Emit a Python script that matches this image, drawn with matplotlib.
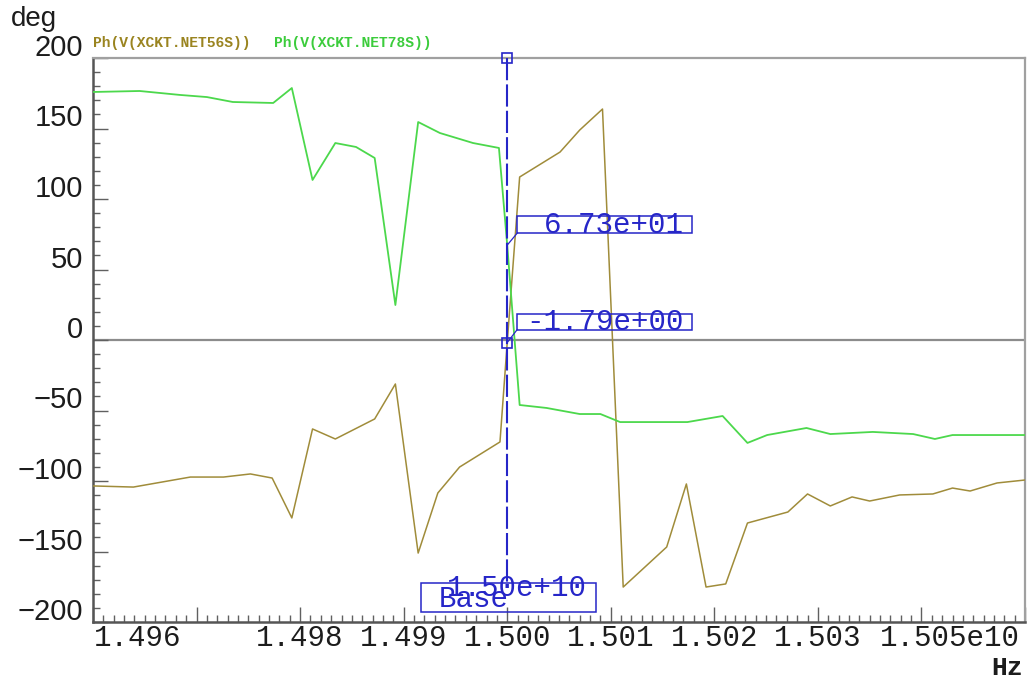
import matplotlib
matplotlib.use("Agg")
import matplotlib.pyplot as plt
import matplotlib.transforms as mtransforms
from matplotlib.patches import Rectangle
from matplotlib.lines import Line2D
from matplotlib.ticker import MultipleLocator
import numpy as np

plt.rcParams["lines.scale_dashes"] = False

# Frequency axis values are in units of 1e10 Hz
freq_78s = [1.49600, 1.49645, 1.49684, 1.49710, 1.49735, 1.49774, 1.49792,
            1.49812, 1.49834, 1.49854, 1.49872, 1.49892, 1.49914, 1.49935,
            1.49967, 1.49992, 1.50000, 1.50012, 1.50038, 1.50070, 1.50090,
            1.50109, 1.50174, 1.50208, 1.50232, 1.50251, 1.50289, 1.50312,
            1.50353, 1.50392, 1.50413, 1.50430, 1.50500]
phase_78s = [175.9, 176.6, 173.8, 172.3, 168.8, 168.1, 178.7,
             113.5, 139.7, 136.9, 129.1, 24.8, 154.6, 146.8,
             139.7, 136.2, 67.3, -46.1, -48.2, -52.5, -52.5,
             -58.2, -58.2, -53.9, -73.0, -67.4, -62.4, -66.7,
             -65.2, -66.7, -70.2, -67.4, -67.4]

freq_56s = [1.49600, 1.49639, 1.49694, 1.49726, 1.49752, 1.49773, 1.49792,
            1.49812, 1.49834, 1.49872, 1.49892, 1.49914, 1.49933, 1.49954,
            1.49993, 1.50000, 1.50012, 1.50051, 1.50070, 1.50092, 1.50112,
            1.50154, 1.50173, 1.50192, 1.50211, 1.50232, 1.50271, 1.50290,
            1.50312, 1.50333, 1.50350, 1.50379, 1.50411, 1.50430, 1.50447,
            1.50473, 1.50500]
phase_56s = [-103.5, -104.3, -97.2, -97.2, -95.0, -97.9, -126.2,
             -63.1, -70.2, -56.0, -31.2, -151.1, -108.5, -90.1,
             -72.3, -1.79, 115.6, 133.3, 148.9, 163.8, -175.2,
             -146.8, -102.1, -175.2, -173.0, -129.8, -122.0, -109.2,
             -117.7, -111.3, -114.2, -109.9, -109.2, -105.0, -107.1,
             -101.4, -99.3]

series_names = ["Ph(V(XCKT.NET56S))", "Ph(V(XCKT.NET78S))"]

cursor_freq = 1.500
base_name = "Base"

x_major = [1.496, 1.497, 1.498, 1.499, 1.500, 1.501, 1.502, 1.503, 1.504, 1.505]
x_tick_labels = ["1.496", "", "1.498", "1.499", "1.500", "1.501", "1.502",
                 "1.503", "", "1.505e10"]
y_major = [-200, -150, -100, -50, 0, 50, 100, 150, 200]
y_tick_labels = ["\u2212200", "\u2212150", "\u2212100", "\u221250", "0",
                 "50", "100", "150", "200"]

OLIVE = "#a08c3a"
GREEN = "#4cd84c"
BLUE = "#2626c8"
DARK = "#1c1c1c"
SANS = ["Liberation Sans", "DejaVu Sans"]
MONO = ["Liberation Mono", "DejaVu Sans Mono"]

W, H, DPI = 1030, 682, 100
fig = plt.figure(figsize=(W / DPI, H / DPI), dpi=DPI, facecolor="white")
ax = fig.add_axes([93 / W, 60 / H, 932 / W, 564 / H])
ax.set_xlim(x_major[0], x_major[-1])
ax.set_ylim(y_major[0], y_major[-1])

# frame
for side in ("left", "bottom"):
    ax.spines[side].set_color("#555555")
    ax.spines[side].set_linewidth(1.8)
for side in ("top", "right"):
    ax.spines[side].set_color("#a0a0a0")
    ax.spines[side].set_linewidth(1.6)

ax.set_xticks(x_major)
ax.xaxis.set_minor_locator(MultipleLocator(0.0001))
ax.set_yticks(y_major)
ax.yaxis.set_minor_locator(MultipleLocator(10))
ax.tick_params(which="both", direction="in", labelbottom=False,
               labelleft=False, color="#606060", width=1,
               top=False, right=False)
ax.tick_params(which="major", length=11)
ax.tick_params(which="minor", length=5)

ax.axhline(0, color="#8c8c8c", lw=1.6, zorder=1)

ax.plot(freq_56s, phase_56s, color=OLIVE, lw=1.1, zorder=3)
ax.plot(freq_78s, phase_78s, color=GREEN, lw=1.3, zorder=4)

# tick labels
px = 1.0 / DPI
ytr = ax.get_yaxis_transform() + mtransforms.ScaledTranslation(
    -10 * px, 10 * px, fig.dpi_scale_trans)
for v, s in zip(y_major, y_tick_labels):
    ax.text(0, v, s, transform=ytr, ha="right", va="center",
            fontsize=21, family=SANS, color=DARK, clip_on=False)

for i, (v, s) in enumerate(zip(x_major, x_tick_labels)):
    if not s:
        continue
    if i == 0:
        ha, dx = "left", 1
    elif i == len(x_major) - 1:
        ha, dx = "right", -5
    else:
        ha, dx = "center", 0
    xtr = ax.get_xaxis_transform() + mtransforms.ScaledTranslation(
        dx * px, -16 * px, fig.dpi_scale_trans)
    ax.text(v, 0, s, transform=xtr, ha=ha, va="center", fontsize=21,
            family=MONO, color=DARK, clip_on=False)

fig.text(34 / W, 1 - 19 / H, "deg", ha="center", va="center",
         fontsize=20, family=SANS, color=DARK)
fig.text(1023 / W, 1 - 668 / H, "Hz", ha="right", va="center",
         fontsize=19, family=MONO, fontweight="bold", color=DARK)

# series names above the plot
fig.text(93 / W, 1 - 43 / H, series_names[0], ha="left", va="center",
         fontsize=10.5, family=MONO, fontweight="bold", color="#9a8420")
fig.text(274 / W, 1 - 43 / H, series_names[1], ha="left", va="center",
         fontsize=10.5, family=MONO, fontweight="bold", color="#3ccc3c")

# cursor and readouts, laid out in pixel units around the cursor position
ident = mtransforms.IdentityTransform()
val_78s = float(np.interp(cursor_freq, freq_78s, phase_78s))
val_56s = float(np.interp(cursor_freq, freq_56s, phase_56s))

cx, ytop = ax.transData.transform((cursor_freq, y_major[-1]))
_, ybot = ax.transData.transform((cursor_freq, y_major[0]))


def readout(value, dy, h):
    axp, ayp = ax.transData.transform((cursor_freq, value))
    left, bottom = axp + 10, ayp + dy
    fig.add_artist(Rectangle((left, bottom), 175, h, transform=ident,
                             fill=False, ec=BLUE, lw=1.1, zorder=6))
    fig.add_artist(Line2D([axp, left], [ayp, bottom], transform=ident,
                          color=BLUE, lw=0.9, zorder=6))
    fig.text(left + 167, bottom + h / 2, f"{value:.2e}", transform=ident,
             ha="right", va="center", fontsize=21, family=MONO,
             color=BLUE, zorder=7)


readout(val_78s, 12, 17)
readout(val_56s, 13, 16)

bb, bh = ybot + 10, 29
fig.add_artist(Rectangle((cx - 86, bb), 175, bh, transform=ident,
                         fill=False, ec=BLUE, lw=1.1, zorder=6))
fig.text(cx + 80, bb + bh - 5, f"{cursor_freq * 1e10:.2e}", transform=ident,
         ha="right", va="center", fontsize=21, family=MONO, color=BLUE,
         zorder=7)
fig.text(cx - 68, bb + bh - 16, base_name, transform=ident, ha="left",
         va="center", fontsize=21, family=MONO, color=BLUE, zorder=7)

fig.add_artist(Line2D([cx, cx], [ytop, bb + bh], transform=ident,
                      color=BLUE, lw=1.5, dashes=(16, 3), zorder=5))
ax.plot([cursor_freq], [y_major[-1]], marker="s", ms=7, mfc="none",
        mec=BLUE, mew=1.2, clip_on=False, zorder=8)
ax.plot([cursor_freq], [val_56s], marker="s", ms=7, mfc="none",
        mec=BLUE, mew=1.2, clip_on=False, zorder=8)

fig.savefig("out.png", dpi=DPI, facecolor="white")
